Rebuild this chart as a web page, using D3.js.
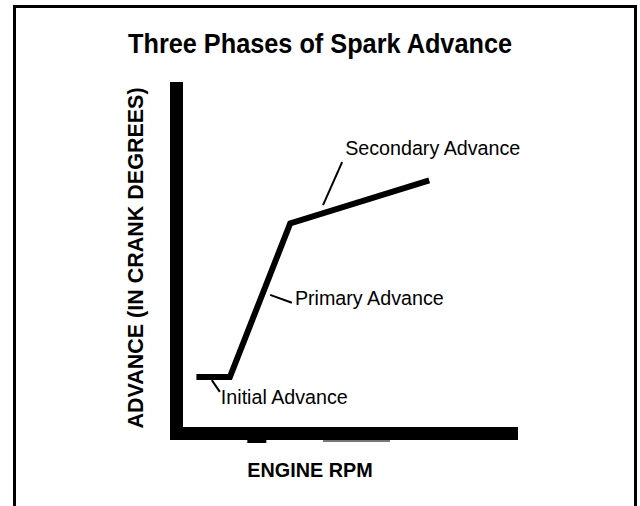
<!DOCTYPE html>
<html>
<head>
  <title>Three Phases of Spark Advance</title>
  <style>
    body { margin: 0; background: #fff; }
    svg { display: block; font-family: "Liberation Sans", Arial, sans-serif; }
  </style>
</head>
<body>
  <script src="https://d3js.org/d3.v7.min.js"></script>
  <script>
// curve points (engine rpm vs advance, arbitrary 0-100 units)
const rpm = [4, 14, 32, 73.5];
const advance = [14.5, 14.5, 59, 71.5];

// annotation labels, leader line from (x0,y0) to (x1,y1), text at (tx,ty)
const labels = ["Secondary Advance", "Primary Advance", "Initial Advance"];
const leaderFrom = [[41.8, 64.3], [26, 38.3], [8.6, 13.6]];
const leaderTo = [[47.5, 76.8], [32.5, 36], [11, 10.2]];
const labelAt = [[48.4, 78.8], [33.4, 35.4], [11.3, 6.7]];

const title = "Three Phases of Spark Advance";
const xTitle = "ENGINE RPM";
const yTitle = "ADVANCE (IN CRANK DEGREES)";

const width = 640, height = 506;

const svg = d3.select("body").append("svg")
  .attr("width", width)
  .attr("height", height);

// outer frame (open at the bottom)
svg.append("path")
  .attr("d", "M14.5,506 L14.5,6.5 L635.5,6.5 L635.5,506")
  .attr("fill", "none")
  .attr("stroke", "#000")
  .attr("stroke-width", 3);

const x = d3.scaleLinear().domain([0, 100]).range([183, 518]);
const y = d3.scaleLinear().domain([0, 100]).range([427, 82]);

// title
svg.append("text")
  .attr("x", 320)
  .attr("y", 53)
  .attr("text-anchor", "middle")
  .attr("font-weight", "bold")
  .attr("font-size", 27)
  .attr("textLength", 384)
  .attr("lengthAdjust", "spacingAndGlyphs")
  .text(title);

// heavy axes
svg.append("rect")
  .attr("x", x(0) - 13).attr("y", y(100))
  .attr("width", 13).attr("height", y(0) - y(100) + 13)
  .attr("fill", "#000");
svg.append("rect")
  .attr("x", x(0) - 13).attr("y", y(0))
  .attr("width", x(100) - x(0) + 13).attr("height", 13)
  .attr("fill", "#000");

// little tick stubs under the x axis
svg.append("rect")
  .attr("x", x(19.2)).attr("y", y(0) + 13)
  .attr("width", 19).attr("height", 3)
  .attr("fill", "#000");
svg.append("rect")
  .attr("x", x(41.8)).attr("y", y(0) + 13)
  .attr("width", 67).attr("height", 2)
  .attr("fill", "#777");

// advance curve
const pts = rpm.map((r, i) => [r, advance[i]]);
svg.append("path")
  .datum(pts)
  .attr("fill", "none")
  .attr("stroke", "#000")
  .attr("stroke-width", 6)
  .attr("stroke-linejoin", "miter")
  .attr("d", d3.line().x(d => x(d[0])).y(d => y(d[1])));

// leader lines
svg.selectAll(".leader")
  .data(labels)
  .join("line")
  .attr("class", "leader")
  .attr("x1", (d, i) => x(leaderFrom[i][0]))
  .attr("y1", (d, i) => y(leaderFrom[i][1]))
  .attr("x2", (d, i) => x(leaderTo[i][0]))
  .attr("y2", (d, i) => y(leaderTo[i][1]))
  .attr("stroke", "#000")
  .attr("stroke-width", 2);

// labels
svg.selectAll(".lbl")
  .data(labels)
  .join("text")
  .attr("class", "lbl")
  .attr("x", (d, i) => x(labelAt[i][0]))
  .attr("y", (d, i) => y(labelAt[i][1]))
  .attr("font-size", 19.7)
  .attr("fill", "#000")
  .text(d => d);

// axis titles
svg.append("text")
  .attr("x", 310)
  .attr("y", 477)
  .attr("text-anchor", "middle")
  .attr("font-weight", "bold")
  .attr("font-size", 19.8)
  .text(xTitle);

svg.append("text")
  .attr("transform", "translate(143,258) rotate(-90)")
  .attr("text-anchor", "middle")
  .attr("font-weight", "bold")
  .attr("font-size", 21.5)
  .text(yTitle);
  </script>
</body>
</html>
